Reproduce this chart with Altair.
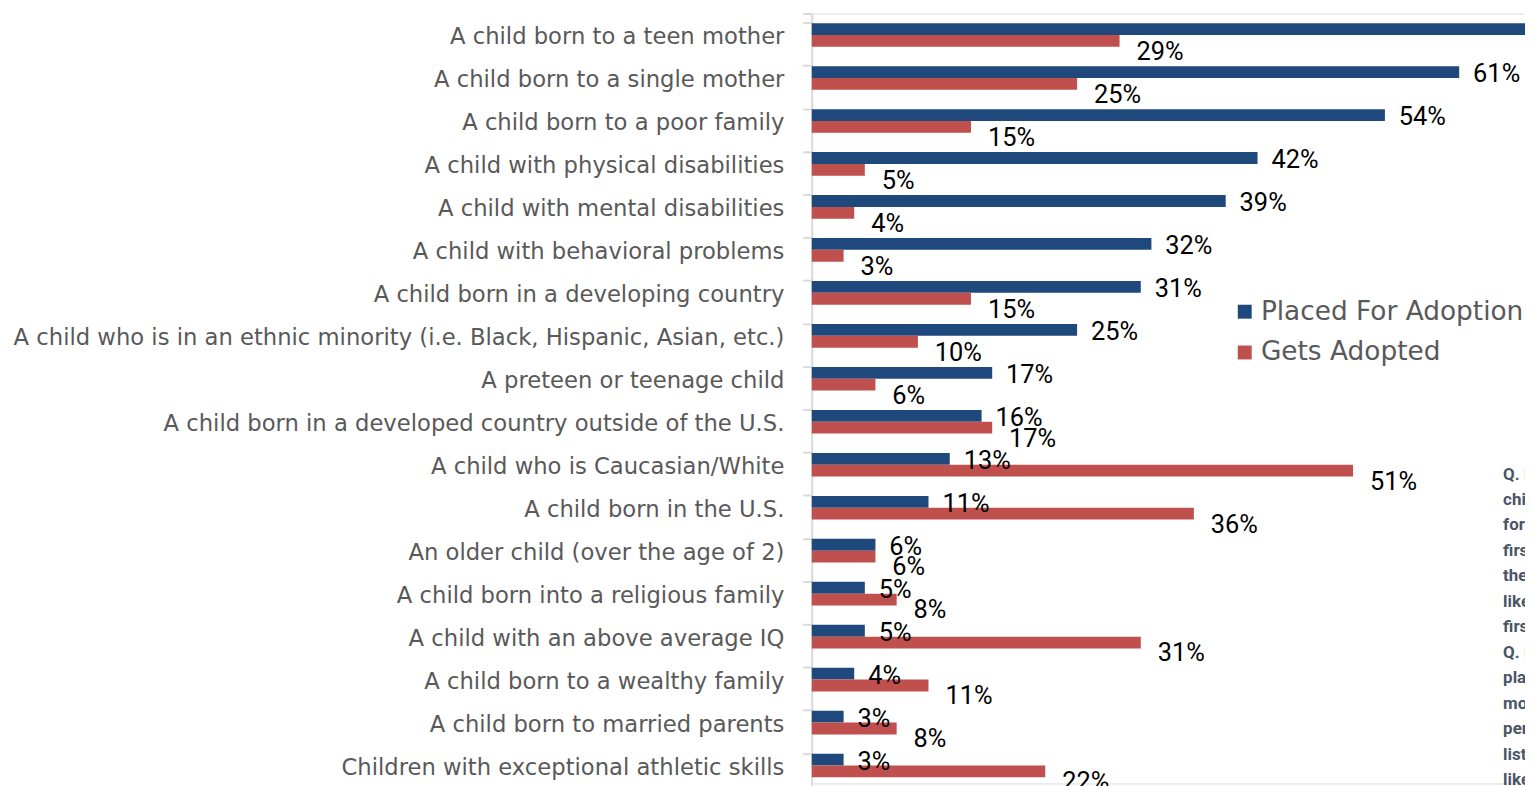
import altair as alt
import pandas as pd

categories = [
    "A child born to a teen mother",
    "A child born to a single mother",
    "A child born to a poor family",
    "A child with physical disabilities",
    "A child with mental disabilities",
    "A child with behavioral problems",
    "A child born in a developing country",
    "A child who is in an ethnic minority (i.e. Black, Hispanic, Asian, etc.)",
    "A preteen  or teenage child",
    "A child born in a developed country outside of the U.S.",
    "A child who is Caucasian/White",
    "A child born in the U.S.",
    "An older child (over the age of 2)",
    "A child born into a religious family",
    "A child with an above average  IQ",
    "A child born to a wealthy family",
    "A child born to married parents",
    "Children with exceptional athletic skills",
]
placed = [70, 61, 54, 42, 39, 32, 31, 25, 17, 16, 13, 11, 6, 5, 5, 4, 3, 3]
adopted = [29, 25, 15, 5, 4, 3, 15, 10, 6, 17, 51, 36, 6, 8, 31, 11, 8, 22]
series = ["Placed For Adoption", "Gets Adopted"]
colors = ["#1F497D", "#C0504D"]
note_lines = [
    "Q. For each type of",
    "child listed, how likely",
    "for them to be placed",
    "first, would you say",
    "they are very or",
    "likely to be placed",
    "first?",
    "Q. For each type of",
    "placed child, which is",
    "more likely to be",
    "permanently adopted",
    "listed below? Very",
    "likely...",
]

rows = []
for c, p, a in zip(categories, placed, adopted):
    rows.append({"category": c, "series": series[0], "value": p, "label": f"{p}%"})
    rows.append({"category": c, "series": series[1], "value": a, "label": f"{a}%"})
df = pd.DataFrame(rows)

FONT = "Roboto"
LFONT = "DejaVu Sans"

x = alt.X("value:Q", scale=alt.Scale(domain=[0, 67.2], nice=False, zero=True), axis=None)
y = alt.Y(
    "category:N",
    sort=categories,
    scale=alt.Scale(range=[0, 777.6], paddingInner=0.45, paddingOuter=0.225),
    axis=alt.Axis(
        title=None, bandPosition=0, tickExtra=True, tickSize=9, tickColor="#d9d9d9",
        tickWidth=2, domainColor="#d9d9d9", domainWidth=2, labelFont=LFONT,
        labelFontSize=22.8, labelColor="#595959", labelPadding=19, labelLimit=900,
        labelOffset=2,
    ),
)
yoff = alt.YOffset("series:N", sort=series, scale=alt.Scale(domain=series, paddingInner=0, paddingOuter=0))

base = alt.Chart(df)

bars = base.mark_bar().encode(
    x=x, y=y, yOffset=yoff,
    color=alt.Color(
        "series:N",
        scale=alt.Scale(domain=series, range=colors),
        legend=alt.Legend(
            title=None, orient="none", legendX=422, legendY=286.5, padding=0,
            symbolType="square", symbolSize=196, symbolStrokeWidth=0,
            labelFont=LFONT, labelFontSize=26.5, labelColor="#595959",
            rowPadding=14, labelOffset=3, labelLimit=600,
        ),
    ),
)

txt_blue = base.transform_filter(alt.datum.series == series[0]).mark_text(
    align="left", baseline="middle", dx=14, dy=2, fontSize=25.5, font=FONT, color="black"
).encode(x=x, y=y, yOffset=yoff, text="label:N")

txt_red = base.transform_filter(alt.datum.series == series[1]).mark_text(
    align="left", baseline="middle", dx=17, dy=11, fontSize=25.5, font=FONT, color="black"
).encode(x=x, y=y, yOffset=yoff, text="label:N")

note = alt.Chart(pd.DataFrame({"t": ["\n".join(note_lines)]})).mark_text(
    align="left", baseline="alphabetic", lineBreak="\n", lineHeight=25.6,
    fontWeight="bold", fontSize=17, font=FONT, color="#4A5566"
).encode(x=alt.value(695), y=alt.value(468.5), text="t:N")

chart = alt.layer(bars, txt_blue, txt_red, note).properties(
    width=717, height=774,
    padding={"left": 808, "top": 3.5, "right": 0, "bottom": 0},
    autosize=alt.AutoSizeParams(type="none"),
).configure_view(stroke=None).configure(background="white")

chart.save("out.html", embed_options={"renderer": "svg", "actions": False})
